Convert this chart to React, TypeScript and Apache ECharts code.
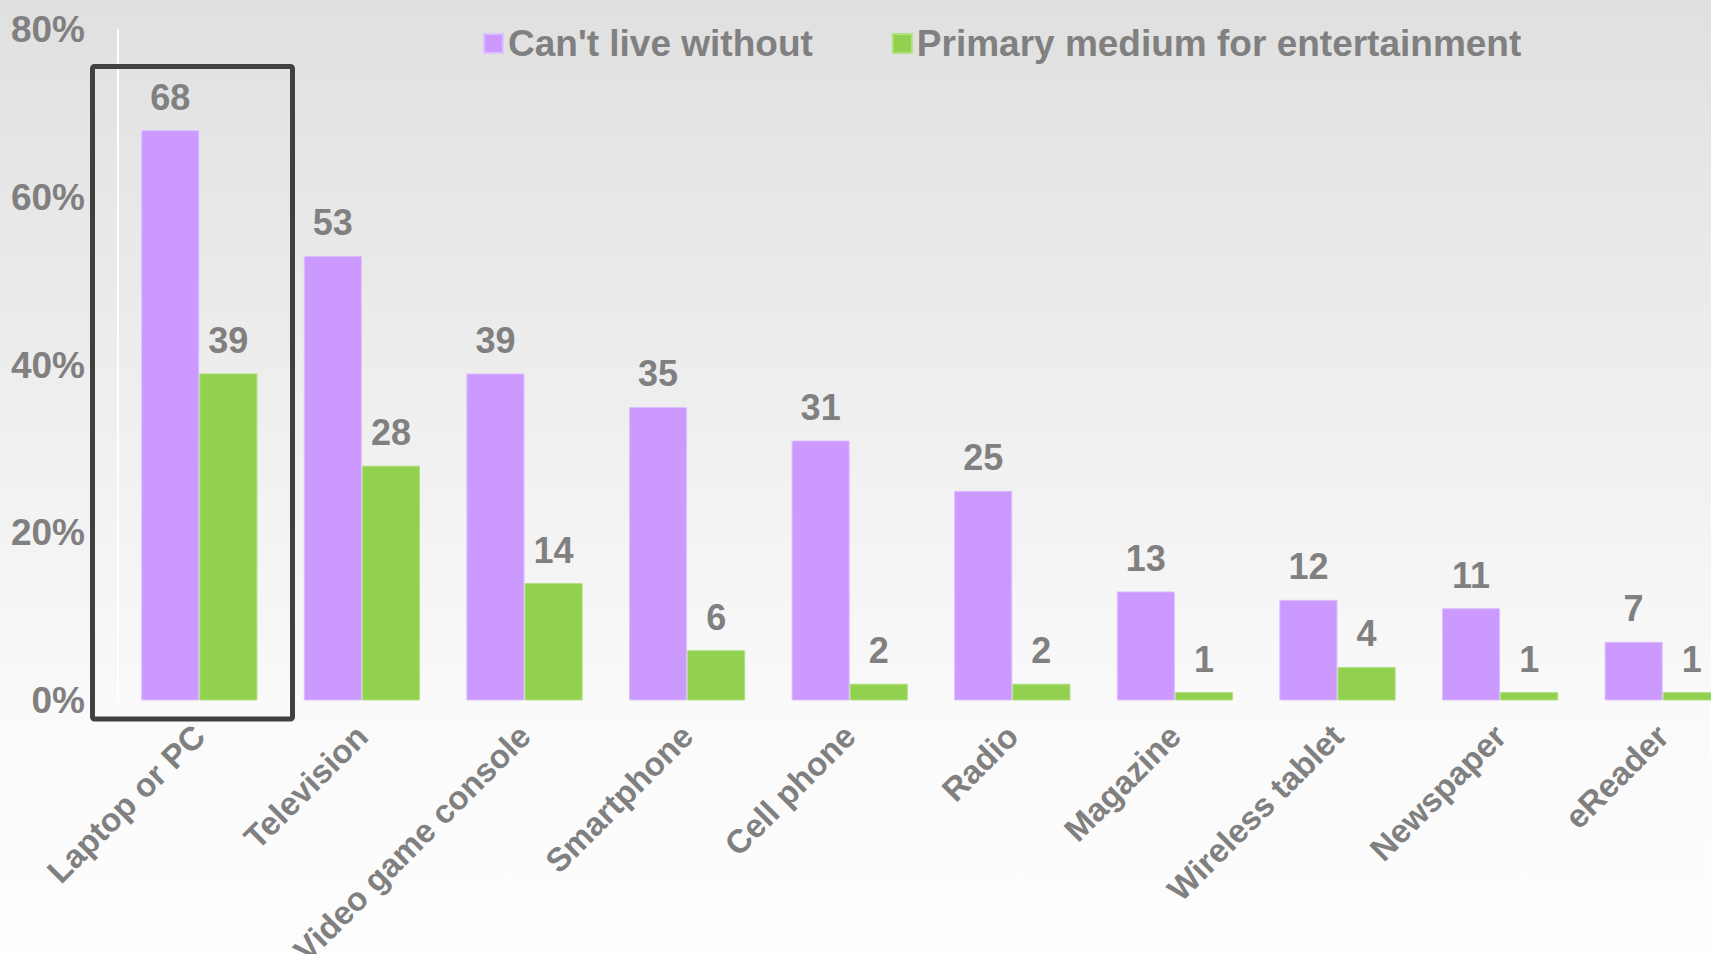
import React, { useEffect, useRef } from "react";
import * as echarts from "echarts";

const categories = [
  "Laptop or PC",
  "Television",
  "Video game console",
  "Smartphone",
  "Cell phone",
  "Radio",
  "Magazine",
  "Wireless tablet",
  "Newspaper",
  "eReader",
];
const cantLiveWithout = [68, 53, 39, 35, 31, 25, 13, 12, 11, 7];
const primaryMedium = [39, 28, 14, 6, 2, 2, 1, 4, 1, 1];
const yTicks = [0, 20, 40, 60, 80];

const FONT = "'Liberation Sans', Arial, sans-serif";
const GRAY = "#808080";

export default function App() {
  const ref = useRef<HTMLDivElement>(null);
  useEffect(() => {
    if (!ref.current) return;
    const chart = echarts.init(ref.current, undefined, { renderer: "svg" });
    const labelCfg = {
      show: true,
      position: "top" as const,
      distance: 15,
      color: GRAY,
      fontSize: 36,
      fontWeight: "bold" as const,
      fontFamily: FONT,
    };
    chart.setOption({
      animation: false,
      backgroundColor: new echarts.graphic.LinearGradient(0, 0, 0, 1, [
        { offset: 0, color: "#e0e0e0" },
        { offset: 0.78, color: "#fbfbfb" },
        { offset: 1, color: "#fdfdfd" },
      ]),
      textStyle: { fontFamily: FONT },
      legend: {
        left: 478,
        top: 20,
        itemWidth: 19,
        itemHeight: 19,
        itemGap: 79,
        icon: "rect",
        textStyle: { color: GRAY, fontSize: 37, fontWeight: "bold", fontFamily: FONT },
        data: ["Can't live without", "Primary medium for entertainment"],
      },
      grid: {
        left: 118,
        width: 1626,
        top: 29.5,
        bottom: 253.5,
        containLabel: false,
        outerBoundsMode: "none",
      },
      xAxis: {
        type: "category",
        data: categories,
        axisLine: { show: false },
        axisTick: { show: false },
        axisLabel: {
          rotate: 45,
          interval: 0,
          margin: 30,
          color: GRAY,
          fontSize: 33,
          fontWeight: "bold",
          fontFamily: FONT,
        },
      },
      yAxis: {
        type: "value",
        min: yTicks[0],
        max: yTicks[yTicks.length - 1],
        interval: 20,
        axisLine: { show: true, lineStyle: { color: "#ffffff", width: 2 } },
        axisTick: { show: false },
        splitLine: { show: false },
        axisLabel: {
          formatter: "{value}%",
          margin: 33,
          color: GRAY,
          fontSize: 37,
          fontWeight: "bold",
          fontFamily: FONT,
        },
      },
      series: [
        {
          name: "Can't live without",
          type: "bar",
          data: cantLiveWithout,
          barGap: "0%",
          barCategoryGap: "28.5%",
          itemStyle: { color: "#cc99ff", borderColor: "#dcc0ff", borderWidth: 1 },
          label: labelCfg,
        },
        {
          name: "Primary medium for entertainment",
          type: "bar",
          data: primaryMedium,
          itemStyle: { color: "#92d050", borderColor: "#b0e080", borderWidth: 1 },
          label: labelCfg,
        },
      ],
      graphic: [
        {
          type: "rect",
          shape: { x: 92.5, y: 66.5, width: 200, height: 652.5, r: 2 },
          style: { fill: "none", stroke: "#404040", lineWidth: 5 },
          z: 100,
        },
      ],
    });
    return () => chart.dispose();
  }, []);
  return (
    <div
      ref={ref}
      style={{ position: "fixed", left: 0, top: 0, width: 1711, height: 954 }}
    />
  );
}
